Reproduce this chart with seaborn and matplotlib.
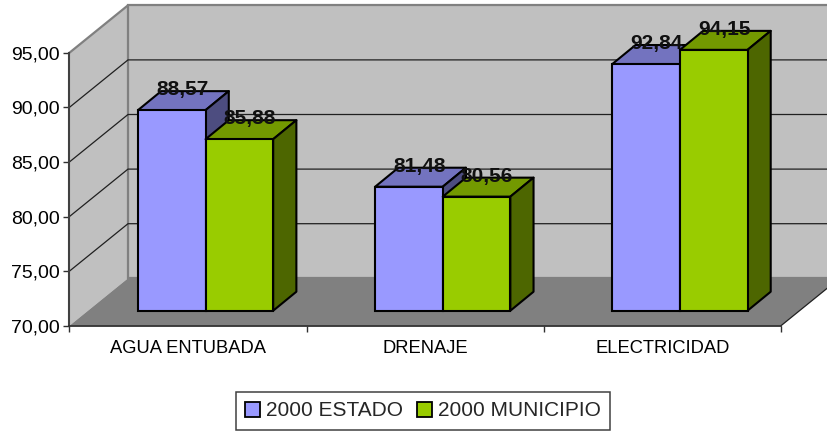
import pandas as pd
import matplotlib
matplotlib.use('Agg')
import matplotlib.pyplot as plt
from matplotlib.patches import Polygon
import seaborn as sns

categories = ['AGUA ENTUBADA', 'DRENAJE', 'ELECTRICIDAD']
estado = [88.57, 81.48, 92.84]
municipio = [85.88, 80.56, 94.15]
series_names = ['2000 ESTADO', '2000 MUNICIPIO']
y_ticks = [70, 75, 80, 85, 90, 95]

W, H = 828, 432
BASE = 70

sns.set_theme(style='white')
plt.rcParams['font.family'] = ['Liberation Sans', 'DejaVu Sans']

df = pd.DataFrame({
    'cat': categories * 2,
    'serie': [series_names[0]] * 3 + [series_names[1]] * 3,
    'valor': estado + municipio,
})


def make_axes(fig, left, right, bottom, top):
    # pixel box -> figure fraction
    return fig.add_axes([left / W, 1 - bottom / H, (right - left) / W, (bottom - top) / H])


fig = plt.figure(figsize=(W / 100, H / 100), dpi=100, facecolor='white')

# front plane of the chart holds the axis, the bars sit a bit further back
ax = make_axes(fig, 69.5, 781, 325.7, 52.7)
ax_bars = make_axes(fig, 87.0, 798.5, 310.7, 40.7)

for a in (ax, ax_bars):
    a.set_xlim(-0.5, 2.5)
    a.set_ylim(BASE, 95)
    a.patch.set_visible(False)

# depth of the box and of one bar, in data units
ux = 711.5 / 3
uy = 273 / 25
box_dx, box_dy = 58.5 / ux, 47.4 / uy
bar_dx, bar_dy = 23.2 / ux, 19 / 10.8

x0, x1 = -0.5, 2.5
y0, y1 = BASE, 95

left_wall = Polygon([(x0, y0), (x0 + box_dx, y0 + box_dy), (x0 + box_dx, y1 + box_dy), (x0, y1)],
                    facecolor='#C0C0C0', edgecolor='none', clip_on=False, zorder=0.1)
back_wall = Polygon([(x0 + box_dx, y0 + box_dy), (x1 + box_dx, y0 + box_dy),
                     (x1 + box_dx, y1 + box_dy), (x0 + box_dx, y1 + box_dy)],
                    facecolor='#C0C0C0', edgecolor='#808080', lw=1.6, clip_on=False, zorder=0.1)
floor = Polygon([(x0, y0), (x1, y0), (x1 + box_dx, y0 + box_dy), (x0 + box_dx, y0 + box_dy)],
                facecolor='#808080', edgecolor='none', clip_on=False, zorder=0.2)
for p in (left_wall, back_wall, floor):
    ax.add_patch(p)

# grid lines run along the left wall and then the back wall
for t in y_ticks[1:-1]:
    ax.plot([x0, x0 + box_dx, x1 + box_dx], [t, t + box_dy, t + box_dy],
            color='#202020', lw=0.9, clip_on=False, zorder=0.3)
ax.plot([x0, x0 + box_dx], [y1, y1 + box_dy], color='#808080', lw=1.6, clip_on=False, zorder=0.3)
ax.plot([x1, x1 + box_dx], [y0, y0 + box_dy], color='#202020', lw=0.9, clip_on=False, zorder=0.3)

sns.despine(ax=ax, top=True, right=True)
ax.spines['left'].set_color('#404040')
ax.spines['left'].set_linewidth(1.5)
ax.spines['bottom'].set_color('#303030')
ax.spines['bottom'].set_linewidth(1.3)

ax.set_yticks(y_ticks)
ax.set_yticklabels([('%.2f' % t).replace('.', ',') for t in y_ticks])
ax.set_xticks([0, 1, 2])
ax.set_xticklabels(categories)
ax.set_xticks([-0.5, 0.5, 1.5, 2.5], minor=True)
ax.tick_params(axis='x', which='major', length=0, pad=10.5, labelsize=13.2, labelcolor='black')
ax.tick_params(axis='x', which='minor', length=4, width=1, color='#303030', bottom=True)
ax.tick_params(axis='y', length=4, width=1, color='#303030', pad=3, labelsize=14, labelcolor='black', left=True)

sns.barplot(data=df, x='cat', y='valor', hue='serie', order=categories, hue_order=series_names,
            palette=['#9999FF', '#99CC00'], width=0.57, gap=0,
            edgecolor='black', linewidth=1.5, saturation=1, ax=ax_bars)
ax_bars.set_xlim(-0.5, 2.5)
ax_bars.set_ylim(BASE, 95)
ax_bars.axis('off')

top_colors = ['#7373BF', '#739900']
side_colors = ['#4D4D80', '#4D6600']
bars = list(ax_bars.patches)[:6]
for i, b in enumerate(bars):
    k = i // 3
    xl, xr = b.get_x(), b.get_x() + b.get_width()
    yt = b.get_height()
    # bars stand on the floor of the box, not on zero
    b.set_y(BASE)
    b.set_height(yt - BASE)
    yb = BASE
    b.set_zorder(3 + 2 * k + 0.5)
    b.set_clip_on(False)
    ax_bars.add_patch(Polygon([(xl, yt), (xr, yt), (xr + bar_dx, yt + bar_dy), (xl + bar_dx, yt + bar_dy)],
                              facecolor=top_colors[k], edgecolor='black', lw=1.5, joinstyle='round',
                              clip_on=False, zorder=3 + 2 * k))
    ax_bars.add_patch(Polygon([(xr, yb), (xr + bar_dx, yb + bar_dy), (xr + bar_dx, yt + bar_dy), (xr, yt)],
                              facecolor=side_colors[k], edgecolor='black', lw=1.5, joinstyle='round',
                              clip_on=False, zorder=3 + 2 * k))
    ax_bars.annotate(('%.2f' % yt).replace('.', ','), xy=((xl + xr) / 2, yt), xytext=(7.5, 14.8),
                     textcoords='offset points', ha='center', va='center',
                     fontsize=15, fontweight='bold', color='#101010', zorder=10, annotation_clip=False)

sns.move_legend(ax_bars, 'center', bbox_to_anchor=(422.9 / W, 1 - 411 / H), bbox_transform=fig.transFigure,
                ncol=2, title=None, frameon=True, fancybox=False, framealpha=1, edgecolor='#404040',
                fontsize=15, columnspacing=0.7, handlelength=0.7, handleheight=0.7,
                handletextpad=0.28, borderpad=0.45, borderaxespad=0)
leg = ax_bars.get_legend()
leg.get_frame().set_linewidth(1.1)
leg.set_zorder(20)
for h in leg.legend_handles:
    h.set_edgecolor('black')
    h.set_linewidth(1.3)

fig.savefig('out.png', dpi=100)
